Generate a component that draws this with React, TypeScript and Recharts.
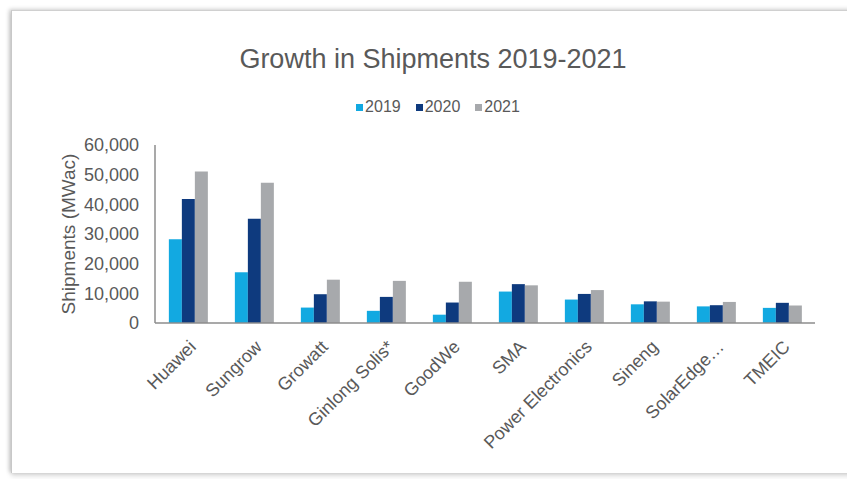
import { BarChart, Bar, XAxis, YAxis } from "recharts";

const vendors = [
  "Huawei",
  "Sungrow",
  "Growatt",
  "Ginlong Solis*",
  "GoodWe",
  "SMA",
  "Power Electronics",
  "Sineng",
  "SolarEdge…",
  "TMEIC",
];
const ship2019 = [28200, 17100, 5200, 4100, 2800, 10600, 7900, 6300, 5600, 5100];
const ship2020 = [41800, 35100, 9700, 8800, 6900, 13100, 9800, 7300, 6000, 6800];
const ship2021 = [51100, 47300, 14600, 14200, 13900, 12700, 11100, 7200, 7100, 5900];
const yTicks = [0, 10000, 20000, 30000, 40000, 50000, 60000];

const series = [
  { key: "y2019", label: "2019", color: "#12A9E1" },
  { key: "y2020", label: "2020", color: "#0E3A7E" },
  { key: "y2021", label: "2021", color: "#A7A9AC" },
];

const data = vendors.map((name, i) => ({
  name,
  y2019: ship2019[i],
  y2020: ship2020[i],
  y2021: ship2021[i],
}));

const font = "Arial, 'Liberation Sans', sans-serif";
const textGrey = "#595959";

function VendorTick({ x, y, payload }: any) {
  const ax = x + 9;
  const ay = y + 17;
  return (
    <text
      x={ax}
      y={ay}
      transform={`rotate(-45, ${ax}, ${ay})`}
      textAnchor="end"
      fontSize={18}
      fontFamily={font}
      fill={textGrey}
    >
      {payload.value}
    </text>
  );
}

export default function App() {
  return (
    <div style={{ position: "fixed", left: 0, top: 0, width: 847, height: 479, overflow: "hidden", background: "#fff" }}>
      {/* card frame with soft shadow */}
      <div
        style={{
          position: "absolute",
          left: 11,
          top: 10,
          width: 900,
          height: 462,
          borderLeft: "1px solid #c8c8c8",
          borderTop: "1px solid #d0d0d0",
          boxShadow: "-2px -1px 4px rgba(0,0,0,0.18), 0 3px 5px rgba(0,0,0,0.15)",
          background: "#fff",
        }}
      />
      <div
        style={{
          position: "absolute",
          top: 44,
          left: 0,
          width: 866,
          textAlign: "center",
          fontFamily: font,
          fontSize: 27,
          color: textGrey,
        }}
      >
        Growth in Shipments 2019-2021
      </div>
      <div
        style={{
          position: "absolute",
          top: 98,
          left: 0,
          width: 876,
          display: "flex",
          justifyContent: "center",
          gap: 15,
          fontFamily: font,
          fontSize: 16,
          color: textGrey,
        }}
      >
        {series.map((s) => (
          <span key={s.key} style={{ display: "flex", alignItems: "center", gap: 2 }}>
            <span style={{ width: 7, height: 7, background: s.color, display: "inline-block" }} />
            {s.label}
          </span>
        ))}
      </div>
      <div style={{ position: "absolute", left: 0, top: 0 }}>
        <BarChart
          width={847}
          height={479}
          data={data}
          margin={{ top: 145, right: 32, bottom: 56, left: 55 }}
          barCategoryGap="21%"
          barGap={0}
        >
          <XAxis
            dataKey="name"
            interval={0}
            height={100}
            tickLine={false}
            axisLine={{ stroke: "#8c8c8c", strokeWidth: 1.5 }}
            tick={<VendorTick />}
          />
          <YAxis
            width={100}
            domain={[0, 60000]}
            ticks={yTicks}
            tickFormatter={(v: number) => v.toLocaleString("en-US")}
            tickLine={false}
            tickMargin={10}
            axisLine={{ stroke: "#8c8c8c", strokeWidth: 1.5 }}
            tick={{ fontSize: 18, fontFamily: font, fill: textGrey }}
            label={{
              value: "Shipments (MWac)",
              angle: -90,
              position: "center",
              dx: -37,
              style: { fontSize: 19, fontFamily: font, fill: textGrey, textAnchor: "middle" },
            }}
          />
          {series.map((s) => (
            <Bar key={s.key} dataKey={s.key} name={s.label} fill={s.color} isAnimationActive={false} />
          ))}
        </BarChart>
      </div>
    </div>
  );
}
